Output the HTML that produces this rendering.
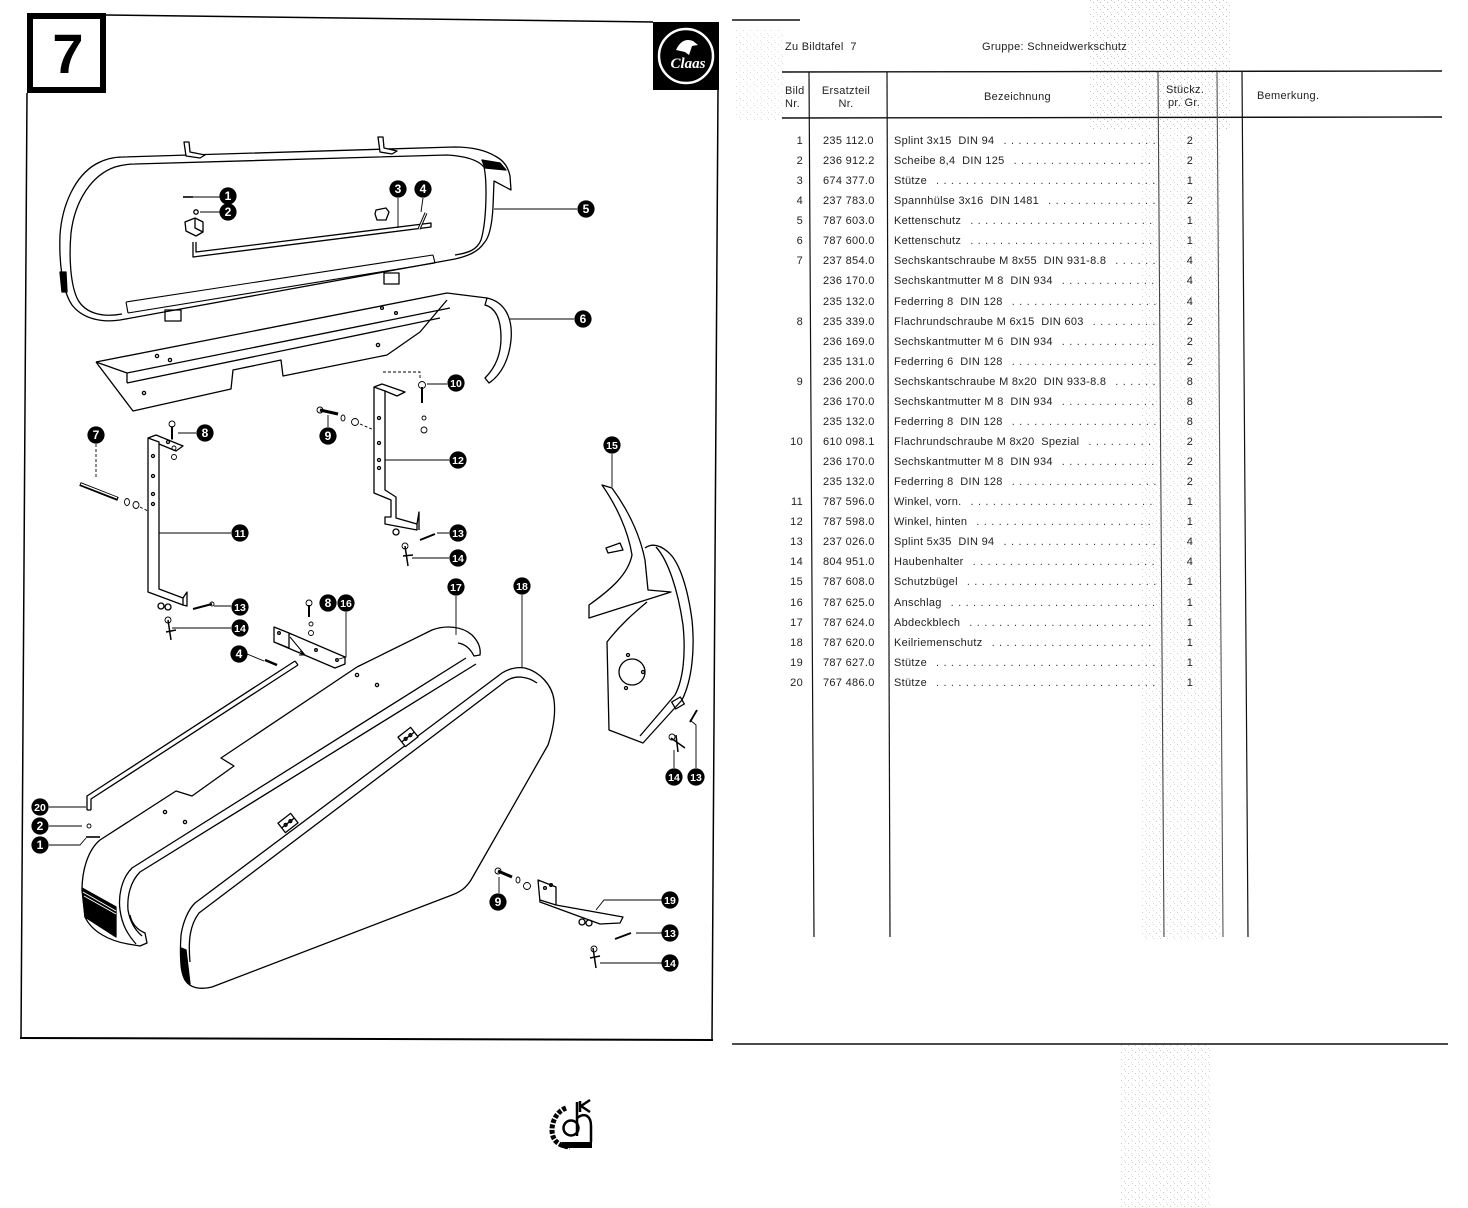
<!DOCTYPE html>
<html><head><meta charset="utf-8">
<style>
body{margin:0;width:1468px;height:1208px;position:relative;background:#fff;font-family:"Liberation Sans",sans-serif;color:#222;overflow:hidden}
svg{position:absolute;left:0;top:0}
.t{position:absolute;font-size:11px;line-height:14px;white-space:nowrap;letter-spacing:0.3px}
.r{position:absolute;left:0;height:14px;width:1468px;font-size:11px;line-height:14px;white-space:nowrap;letter-spacing:0.3px}
.r .b{position:absolute;left:778px;width:25px;text-align:right}
.r .p{position:absolute;left:823px}
.r .n{position:absolute;left:894px;width:262px;display:flex;overflow:hidden}
.r .n i{font-style:normal;flex:none}
.r .n s{text-decoration:none;flex:1 1 auto;overflow:hidden;margin-left:9px;letter-spacing:4.4px;color:#333;min-width:0}
.r .q{position:absolute;left:1180px;width:20px;text-align:center}
</style></head><body>
<svg width="1468" height="1208" viewBox="0 0 1468 1208">
<defs>
<pattern id="sp" width="7" height="7" patternUnits="userSpaceOnUse">
<rect x="1" y="2" width="1" height="1" fill="#888"/>
<rect x="4" y="5" width="1" height="1" fill="#aaa"/>
<rect x="5" y="0" width="1" height="1" fill="#999"/>
</pattern>
</defs>
<rect x="1090" y="0" width="140" height="130" fill="url(#sp)" opacity=".55"/>
<rect x="1140" y="130" width="80" height="810" fill="url(#sp)" opacity=".4"/>
<rect x="1120" y="1045" width="90" height="163" fill="url(#sp)" opacity=".45"/>
<rect x="735" y="30" width="50" height="90" fill="url(#sp)" opacity=".3"/>

<!-- frame -->
<g stroke="#000" fill="none">
<rect x="30" y="16" width="73" height="74" stroke-width="6"/>
<path d="M106,15 L653,22" stroke-width="1.5"/>
<path d="M27,93 L21,1038" stroke-width="1.5"/>
<path d="M718,90 L712,1040" stroke-width="1.5"/>
<path d="M20,1038 L713,1040" stroke-width="2"/>
</g>
<text x="68" y="73" font-family="Liberation Sans" font-size="56" font-weight="bold" text-anchor="middle">7</text>

<!-- logo -->
<rect x="653" y="22" width="66" height="68" fill="#000"/>
<circle cx="686" cy="56" r="27" fill="none" stroke="#fff" stroke-width="2.5"/>
<text x="688" y="68" fill="#fff" font-size="15" font-style="italic" font-weight="bold" text-anchor="middle" font-family="Liberation Serif">Claas</text>
<path d="M676,50 q6,-13 17,-9 l5,4 -6,1 -3,9 -4,-3 z" fill="#fff"/>

<!-- table lines -->
<g stroke="#111" fill="none">
<path d="M732,20 L800,20" stroke-width="1.6"/>
<path d="M782,72 L1442,71" stroke-width="1.4"/>
<path d="M782,118 L1442,117" stroke-width="1.4"/>
<path d="M809,72 L814,937" stroke-width="1.2"/>
<path d="M887,72 L890,937" stroke-width="1.2"/>
<path d="M1158,72 L1164,937" stroke-width="1.1" stroke="#444"/>
<path d="M1217,72 L1223,937" stroke-width="1.1" stroke="#555"/>
<path d="M1242,72 L1248,937" stroke-width="1.2"/>
<path d="M732,1044 L1448,1044" stroke-width="1.5"/>
</g>

<!-- bottom logo -->
<g fill="none" stroke="#000">
<path d="M566,1108 C556,1112 552,1122 552,1130 C552,1140 558,1146 570,1147" stroke-width="5" stroke-dasharray="4 1.5"/>
<circle cx="571" cy="1128" r="7.5" stroke-width="2.5"/>
<path d="M577,1102 L577,1136" stroke-width="2.5"/>
<path d="M577,1118 C585,1112 591,1116 591,1126 L591,1142" stroke-width="2.5"/>
<path d="M580,1101 L580,1112 M590,1100 L581,1106 L590,1112" stroke-width="2.5"/>
</g>
<rect x="562" y="1142" width="30" height="6" fill="#000"/>

<!-- DIAGRAM -->
<g stroke="#000" fill="none" stroke-width="1.3" stroke-linejoin="round">
<!-- part 5 -->
<path d="M123,157 L454,147 C470,147 485,150 495,156 C503,160 508,166 510,176 L511,190 L494,181 L493,207 C492,225 489,238 484,243 C478,252 468,256 455,259 L120,320 C100,323 82,318 72,305 C62,290 59,262 60,235 C62,205 75,176 96,164 C105,159 113,157 123,157 Z" fill="#fff"/>
<path d="M135,164 L447,155 C465,156 478,160 484,167 C487,180 487,220 481,240 C477,250 468,253 455,255 M122,314 C100,318 85,312 78,300 C70,285 69,255 71,233 C75,200 92,175 115,167 C122,165 128,164 135,164"/>
<path d="M126,302 L433,255 M128,313 L435,263 M126,302 L128,313 M433,255 L435,263" stroke-width="1.1"/>
<path d="M184,142 L189,142 L190,152 L205,155 L200,158 L186,156 Z M378,137 L383,137 L384,148 L397,151 L392,154 L380,152 Z" fill="#fff"/>
<path d="M482,160 L500,163 L506,170 L485,168 Z" fill="#000"/>
<path d="M60,272 L66,272 L67,292 L62,292 Z" fill="#000"/>
<path d="M193,242 L193,257 L431,227 L431,223 L196,252 L196,242"/>
<path d="M185,222 L195,218 L203,222 L203,232 L196,236 L186,231 Z M195,218 L195,228 L203,232" fill="#fff"/>
<path d="M376,210 L386,208 L389,212 L386,220 L377,220 L375,214 Z"/>
<path d="M419,229 L426,213" stroke-width="3"/>
<path d="M419,229 L426,213" stroke-width="1" stroke="#fff"/>
<rect x="384" y="273" width="15" height="11"/>
<rect x="165" y="310" width="16" height="11"/>
<path d="M183,197 L193,197" stroke-width="1.6"/>
<circle cx="196" cy="212" r="2.2"/>

<!-- part 6 -->
<path d="M96,362 L447,293 L487,298 M127,373 L450,308 M127,383 L440,318 M127,373 L127,383 M96,362 L127,373"/>
<path d="M96,362 L133,411 L231,389 L233,370 L281,360 L283,376 L387,355 L420,332 L447,300" stroke-dasharray="none"/>
<circle cx="157" cy="356" r="1.6"/><circle cx="170" cy="360" r="1.6"/><circle cx="378" cy="345" r="1.6"/><circle cx="144" cy="393" r="1.6"/><circle cx="382" cy="308" r="1.4"/><circle cx="396" cy="313" r="1.4"/>
<path d="M487,298 C505,302 513,318 511,340 C509,360 501,375 489,383 L485,378 C495,368 501,355 501,338 C501,320 496,308 485,305 Z" fill="#fff"/>

<!-- bracket 11 -->
<path d="M148,438 L148,592 L183,605 L183,598 L159,589 L159,442 Z M148,438 L156,435 L183,446 L176,451 L159,444" fill="#fff"/>
<path d="M183,598 L187,592 L187,606 L183,605"/>
<circle cx="153" cy="456" r="1.5"/><circle cx="153" cy="476" r="1.5"/><circle cx="153" cy="494" r="1.5"/><circle cx="153" cy="504" r="1.5"/><circle cx="168" cy="442" r="1.5"/>
<circle cx="161" cy="606" r="3"/><circle cx="168" cy="607" r="3"/>

<!-- bracket 12 -->
<path d="M374,387 L374,493 L391,500 L391,517 L385,517 L385,524 L417,530 L417,524 L396,518 L396,497 L385,490 L385,391 Z M374,387 L382,384 L405,392 L397,396 L385,391" fill="#fff"/>
<path d="M417,524 L419,512 L419,530"/>
<circle cx="379" cy="418" r="1.5"/><circle cx="379" cy="443" r="1.5"/><circle cx="379" cy="460" r="1.5"/><circle cx="379" cy="468" r="1.5"/>
<circle cx="396" cy="532" r="3"/>

<!-- part 15 -->
<path d="M602,485 L612,488 C628,510 640,535 645,560 L648,590 L671,592 L589,618 L589,605 C610,590 628,575 632,555 C628,530 616,505 602,485 Z" fill="#fff"/>
<path d="M606,548 L620,543 L623,550 L608,553 Z"/>
<path d="M645,548 C652,543 660,545 668,552 C680,562 688,590 692,620 C695,650 692,680 682,700 L643,743 L609,730 L607,642 C620,625 635,612 647,602"/>
<path d="M656,547 C668,560 678,590 683,625 C686,655 683,680 675,695 L640,736"/>
<circle cx="632" cy="672" r="13"/>
<circle cx="628" cy="655" r="1.5"/><circle cx="643" cy="672" r="1.5"/><circle cx="626" cy="688" r="1.5"/>
<rect x="673" y="699" width="10" height="8" transform="rotate(-30 678 703)"/>

<!-- part 17 -->
<path d="M357,667 L432,630 C445,625 462,626 472,635 C478,641 481,648 480,655 L474,656 C470,648 465,644 458,643"/>
<path d="M357,667 L221,758 L234,766 L192,796 L176,791 L100,840 C88,850 82,870 82,890 L85,917 C92,932 110,941 128,944 L140,946 L147,943 L145,933 C138,930 132,925 130,915"/>
<path d="M466,658 L132,868 C122,878 118,895 120,910 C122,925 128,935 136,944 M476,664 L140,872 C130,882 127,897 128,910 C130,922 135,930 142,936"/>
<path d="M82,888 L116,907 L116,937 L85,917 Z" fill="#000"/>
<path d="M83,892 L116,911 M84,896 L116,914" stroke="#fff" stroke-width="1"/>
<circle cx="357" cy="675" r="1.6"/><circle cx="377" cy="685" r="1.6"/><circle cx="165" cy="812" r="1.6"/><circle cx="185" cy="822" r="1.6"/>

<!-- part 18 -->
<path d="M502,673 C510,668 518,667 525,668 C540,672 552,685 554,700 C556,715 553,730 548,745 L471,880 C466,888 460,892 452,895 L212,987 C200,990 190,988 185,980 C180,970 180,950 181,935 C183,922 188,910 195,903 Z" fill="#fff"/>
<path d="M190,962 C188,940 190,925 199,913 L506,681 C515,675 527,676 537,683"/>
<path d="M181,948 L186,950 L190,984 C185,982 182,975 181,965 Z" fill="#000"/>
<g transform="rotate(-38 408 737)"><rect x="400" y="731" width="16" height="12" fill="#fff"/><circle cx="405" cy="737" r="1.5"/><circle cx="411" cy="737" r="1.5"/><path d="M400,737 L416,737"/></g>
<g transform="rotate(-38 288 823)"><rect x="280" y="817" width="16" height="12" fill="#fff"/><circle cx="285" cy="823" r="1.5"/><circle cx="291" cy="823" r="1.5"/><path d="M280,823 L296,823"/></g>

<!-- rod 20 -->
<path d="M87,810 L87,796 L295,661 M91,810 L91,799 L298,665 M87,810 L91,810 M295,661 L298,665"/>

<!-- bracket 16 -->
<path d="M274,627 L289,633 L289,648 L274,642 Z M289,633 L345,657 L345,664 L335,668 L274,642" fill="#fff"/>
<path d="M290,637 L305,655 M300,651 L305,655 L299,655" stroke-width="1"/>
<circle cx="279" cy="633" r="1.3"/><circle cx="316" cy="650" r="1.3"/><circle cx="337" cy="660" r="1.3"/>

<!-- bracket 19 -->
<path d="M538,880 L556,887 L556,905 L623,917 L620,923 L600,924 L540,902 Z M540,900 L556,905" fill="#fff"/>
<circle cx="545" cy="888" r="1.4"/><circle cx="551" cy="885" r="1.4"/>
<circle cx="582" cy="922" r="3"/><circle cx="589" cy="923" r="3"/>
</g>

<!-- fasteners & leaders -->
<g stroke="#000" fill="none" stroke-width="0.9">
<path d="M186,197 L220,197 M200,212 L220,212 M398,198 L398,228 M423,198 L421,212 M494,209 L577,209 M510,319 L574,319"/>
<path d="M96,444 L96,478 M140,507 L148,511" stroke-dasharray="3 2"/>
<path d="M80,484 L118,499" stroke-width="4"/>
<path d="M81,484 L117,498" stroke-width="1.4" stroke="#fff"/>
<ellipse cx="127" cy="502" rx="2.5" ry="3.5"/><ellipse cx="136" cy="505" rx="3" ry="3.5"/>
<path d="M178,433 L196,433 M172,426 L172,440" /><path d="M172,427 L172,439" stroke-width="2"/><circle cx="172" cy="424" r="3"/>
<circle cx="174" cy="448" r="2"/><circle cx="174" cy="457" r="2.5"/>
<path d="M159,533 L231,533 M214,606 L231,606 M172,628 L231,628"/>
<path d="M193,609 L212,604" stroke-width="2"/><circle cx="212" cy="604" r="2"/>
<path d="M168,620 L171,640 M166,632 L176,630" stroke-width="1.5"/><circle cx="168" cy="620" r="3"/>
<path d="M320,410 L338,414" stroke-width="3"/><circle cx="320" cy="410" r="3"/>
<path d="M328,415 L328,427"/>
<ellipse cx="343" cy="418" rx="2" ry="3"/><circle cx="355" cy="422" r="3.5"/>
<path d="M360,424 L374,430 M383,372 L420,372 L420,380" stroke-dasharray="3 2"/>
<path d="M422,387 L422,403" stroke-width="2"/><circle cx="422" cy="385" r="3.5"/>
<circle cx="424" cy="418" r="2"/><circle cx="424" cy="430" r="3"/>
<path d="M427,384 L447,384 M385,460 L449,460 M437,533 L449,533 M412,558 L449,558"/>
<path d="M420,540 L435,534" stroke-width="2"/>
<path d="M405,546 L408,566 M403,556 L413,555" stroke-width="1.5"/><circle cx="405" cy="546" r="3"/>
<path d="M612,454 L612,487 M456,596 L456,635 M522,595 L522,668"/>
<path d="M309,605 L309,617" stroke-width="2"/><circle cx="309" cy="603" r="3"/>
<circle cx="311" cy="624" r="2"/><circle cx="311" cy="633" r="2.5"/>
<path d="M346,612 L346,657 L339,659 M247,654 L264,661"/>
<path d="M265,660 L277,665" stroke-width="2.5"/>
<path d="M674,768 L674,750 M696,768 L696,725 L690,720"/>
<path d="M690,722 L697,710" stroke-width="1.8"/>
<path d="M671,738 L685,748 M676,735 L678,752" stroke-width="1.5"/><circle cx="672" cy="737" r="3"/>
<path d="M49,807 L86,807 M49,826 L82,826 M49,845 L80,845 L86,838"/>
<circle cx="89" cy="826" r="2"/><path d="M86,837 L100,837" stroke-width="1.6"/>
<path d="M499,893 L499,877"/>
<path d="M498,871 L512,877" stroke-width="3"/><circle cx="498" cy="871" r="3"/>
<ellipse cx="518" cy="880" rx="2" ry="3"/><circle cx="527" cy="886" r="3.5"/>
<path d="M663,900 L604,900 L596,910 M662,933 L636,933 M662,963 L600,963"/>
<path d="M615,939 L631,933" stroke-width="1.8"/>
<path d="M593,948 L596,968 M590,958 L600,956" stroke-width="1.5"/><circle cx="594" cy="949" r="3"/>
</g>

<!-- labels -->
<g font-family="Liberation Sans" font-weight="bold" font-size="12" text-anchor="middle" fill="#fff">
<g fill="#000">
<circle cx="228" cy="196" r="8.6"/><circle cx="228" cy="212" r="8.6"/><circle cx="398" cy="189" r="8.6"/><circle cx="423" cy="189" r="8.6"/>
<circle cx="586" cy="209" r="8.6"/><circle cx="583" cy="319" r="8.6"/><circle cx="96" cy="435" r="8.6"/><circle cx="205" cy="433" r="8.6"/>
<circle cx="328" cy="436" r="8.6"/><circle cx="456" cy="383" r="8.6"/><circle cx="240" cy="533" r="8.6"/><circle cx="458" cy="460" r="8.6"/>
<circle cx="458" cy="533" r="8.6"/><circle cx="458" cy="558" r="8.6"/><circle cx="612" cy="445" r="8.6"/><circle cx="240" cy="607" r="8.6"/>
<circle cx="240" cy="628" r="8.6"/><circle cx="456" cy="587" r="8.6"/><circle cx="522" cy="586" r="8.6"/><circle cx="328" cy="603" r="8.6"/>
<circle cx="346" cy="603" r="8.6"/><circle cx="239" cy="654" r="8.6"/><circle cx="674" cy="777" r="8.6"/><circle cx="696" cy="777" r="8.6"/>
<circle cx="40" cy="807" r="8.6"/><circle cx="40" cy="826" r="8.6"/><circle cx="40" cy="845" r="8.6"/><circle cx="498" cy="902" r="8.6"/>
<circle cx="670" cy="900" r="8.6"/><circle cx="670" cy="933" r="8.6"/><circle cx="670" cy="963" r="8.6"/>
</g>
<text x="228" y="200">1</text><text x="228" y="216">2</text><text x="398" y="193">3</text><text x="423" y="193">4</text>
<text x="586" y="213">5</text><text x="583" y="323">6</text><text x="96" y="439">7</text><text x="205" y="437">8</text>
<text x="328" y="440">9</text><text x="456" y="387" font-size="10.5">10</text><text x="240" y="537" font-size="10.5">11</text><text x="458" y="464" font-size="10.5">12</text>
<text x="458" y="537" font-size="10.5">13</text><text x="458" y="562" font-size="10.5">14</text><text x="612" y="449" font-size="10.5">15</text><text x="240" y="611" font-size="10.5">13</text>
<text x="240" y="632" font-size="10.5">14</text><text x="456" y="591" font-size="10.5">17</text><text x="522" y="590" font-size="10.5">18</text><text x="328" y="607">8</text>
<text x="346" y="607" font-size="10.5">16</text><text x="239" y="658">4</text><text x="674" y="781" font-size="10.5">14</text><text x="696" y="781" font-size="10.5">13</text>
<text x="40" y="811" font-size="10.5">20</text><text x="40" y="830">2</text><text x="40" y="849">1</text><text x="498" y="906">9</text>
<text x="670" y="904" font-size="10.5">19</text><text x="670" y="937" font-size="10.5">13</text><text x="670" y="967" font-size="10.5">14</text>
</g>
</svg>

<!-- table header text -->
<div class="t" style="left:785px;top:40px">Zu Bildtafel&nbsp; 7</div>
<div class="t" style="left:982px;top:40px">Gruppe: Schneidwerkschutz</div>
<div class="t" style="left:785px;top:84px">Bild</div>
<div class="t" style="left:785px;top:97px">Nr.</div>
<div class="t" style="left:818px;top:84px;width:56px;text-align:center">Ersatzteil</div>
<div class="t" style="left:818px;top:97px;width:56px;text-align:center">Nr.</div>
<div class="t" style="left:984px;top:90px">Bezeichnung</div>
<div class="t" style="left:1166px;top:83px">Stückz.</div>
<div class="t" style="left:1168px;top:96px">pr. Gr.</div>
<div class="t" style="left:1257px;top:89px">Bemerkung.</div>

<!-- rows -->
<div class="r" style="top:134px"><span class="b">1</span><span class="p">235 112.0</span><span class="n"><i>Splint 3x15&nbsp; DIN 94</i><s>..................................................</s></span><span class="q">2</span></div>
<div class="r" style="top:154px"><span class="b">2</span><span class="p">236 912.2</span><span class="n"><i>Scheibe 8,4&nbsp; DIN 125</i><s>..................................................</s></span><span class="q">2</span></div>
<div class="r" style="top:174px"><span class="b">3</span><span class="p">674 377.0</span><span class="n"><i>Stütze</i><s>..................................................</s></span><span class="q">1</span></div>
<div class="r" style="top:194px"><span class="b">4</span><span class="p">237 783.0</span><span class="n"><i>Spannhülse 3x16&nbsp; DIN 1481</i><s>..................................................</s></span><span class="q">2</span></div>
<div class="r" style="top:214px"><span class="b">5</span><span class="p">787 603.0</span><span class="n"><i>Kettenschutz</i><s>..................................................</s></span><span class="q">1</span></div>
<div class="r" style="top:234px"><span class="b">6</span><span class="p">787 600.0</span><span class="n"><i>Kettenschutz</i><s>..................................................</s></span><span class="q">1</span></div>
<div class="r" style="top:254px"><span class="b">7</span><span class="p">237 854.0</span><span class="n"><i>Sechskantschraube M 8x55&nbsp; DIN 931-8.8</i><s>..................................................</s></span><span class="q">4</span></div>
<div class="r" style="top:274px"><span class="b"></span><span class="p">236 170.0</span><span class="n"><i>Sechskantmutter M 8&nbsp; DIN 934</i><s>..................................................</s></span><span class="q">4</span></div>
<div class="r" style="top:295px"><span class="b"></span><span class="p">235 132.0</span><span class="n"><i>Federring 8&nbsp; DIN 128</i><s>..................................................</s></span><span class="q">4</span></div>
<div class="r" style="top:315px"><span class="b">8</span><span class="p">235 339.0</span><span class="n"><i>Flachrundschraube M 6x15&nbsp; DIN 603</i><s>..................................................</s></span><span class="q">2</span></div>
<div class="r" style="top:335px"><span class="b"></span><span class="p">236 169.0</span><span class="n"><i>Sechskantmutter M 6&nbsp; DIN 934</i><s>..................................................</s></span><span class="q">2</span></div>
<div class="r" style="top:355px"><span class="b"></span><span class="p">235 131.0</span><span class="n"><i>Federring 6&nbsp; DIN 128</i><s>..................................................</s></span><span class="q">2</span></div>
<div class="r" style="top:375px"><span class="b">9</span><span class="p">236 200.0</span><span class="n"><i>Sechskantschraube M 8x20&nbsp; DIN 933-8.8</i><s>..................................................</s></span><span class="q">8</span></div>
<div class="r" style="top:395px"><span class="b"></span><span class="p">236 170.0</span><span class="n"><i>Sechskantmutter M 8&nbsp; DIN 934</i><s>..................................................</s></span><span class="q">8</span></div>
<div class="r" style="top:415px"><span class="b"></span><span class="p">235 132.0</span><span class="n"><i>Federring 8&nbsp; DIN 128</i><s>..................................................</s></span><span class="q">8</span></div>
<div class="r" style="top:435px"><span class="b">10</span><span class="p">610 098.1</span><span class="n"><i>Flachrundschraube M 8x20&nbsp; Spezial</i><s>..................................................</s></span><span class="q">2</span></div>
<div class="r" style="top:455px"><span class="b"></span><span class="p">236 170.0</span><span class="n"><i>Sechskantmutter M 8&nbsp; DIN 934</i><s>..................................................</s></span><span class="q">2</span></div>
<div class="r" style="top:475px"><span class="b"></span><span class="p">235 132.0</span><span class="n"><i>Federring 8&nbsp; DIN 128</i><s>..................................................</s></span><span class="q">2</span></div>
<div class="r" style="top:495px"><span class="b">11</span><span class="p">787 596.0</span><span class="n"><i>Winkel, vorn.</i><s>..................................................</s></span><span class="q">1</span></div>
<div class="r" style="top:515px"><span class="b">12</span><span class="p">787 598.0</span><span class="n"><i>Winkel, hinten</i><s>..................................................</s></span><span class="q">1</span></div>
<div class="r" style="top:535px"><span class="b">13</span><span class="p">237 026.0</span><span class="n"><i>Splint 5x35&nbsp; DIN 94</i><s>..................................................</s></span><span class="q">4</span></div>
<div class="r" style="top:555px"><span class="b">14</span><span class="p">804 951.0</span><span class="n"><i>Haubenhalter</i><s>..................................................</s></span><span class="q">4</span></div>
<div class="r" style="top:575px"><span class="b">15</span><span class="p">787 608.0</span><span class="n"><i>Schutzbügel</i><s>..................................................</s></span><span class="q">1</span></div>
<div class="r" style="top:596px"><span class="b">16</span><span class="p">787 625.0</span><span class="n"><i>Anschlag</i><s>..................................................</s></span><span class="q">1</span></div>
<div class="r" style="top:616px"><span class="b">17</span><span class="p">787 624.0</span><span class="n"><i>Abdeckblech</i><s>..................................................</s></span><span class="q">1</span></div>
<div class="r" style="top:636px"><span class="b">18</span><span class="p">787 620.0</span><span class="n"><i>Keilriemenschutz</i><s>..................................................</s></span><span class="q">1</span></div>
<div class="r" style="top:656px"><span class="b">19</span><span class="p">787 627.0</span><span class="n"><i>Stütze</i><s>..................................................</s></span><span class="q">1</span></div>
<div class="r" style="top:676px"><span class="b">20</span><span class="p">767 486.0</span><span class="n"><i>Stütze</i><s>..................................................</s></span><span class="q">1</span></div>
</body></html>
